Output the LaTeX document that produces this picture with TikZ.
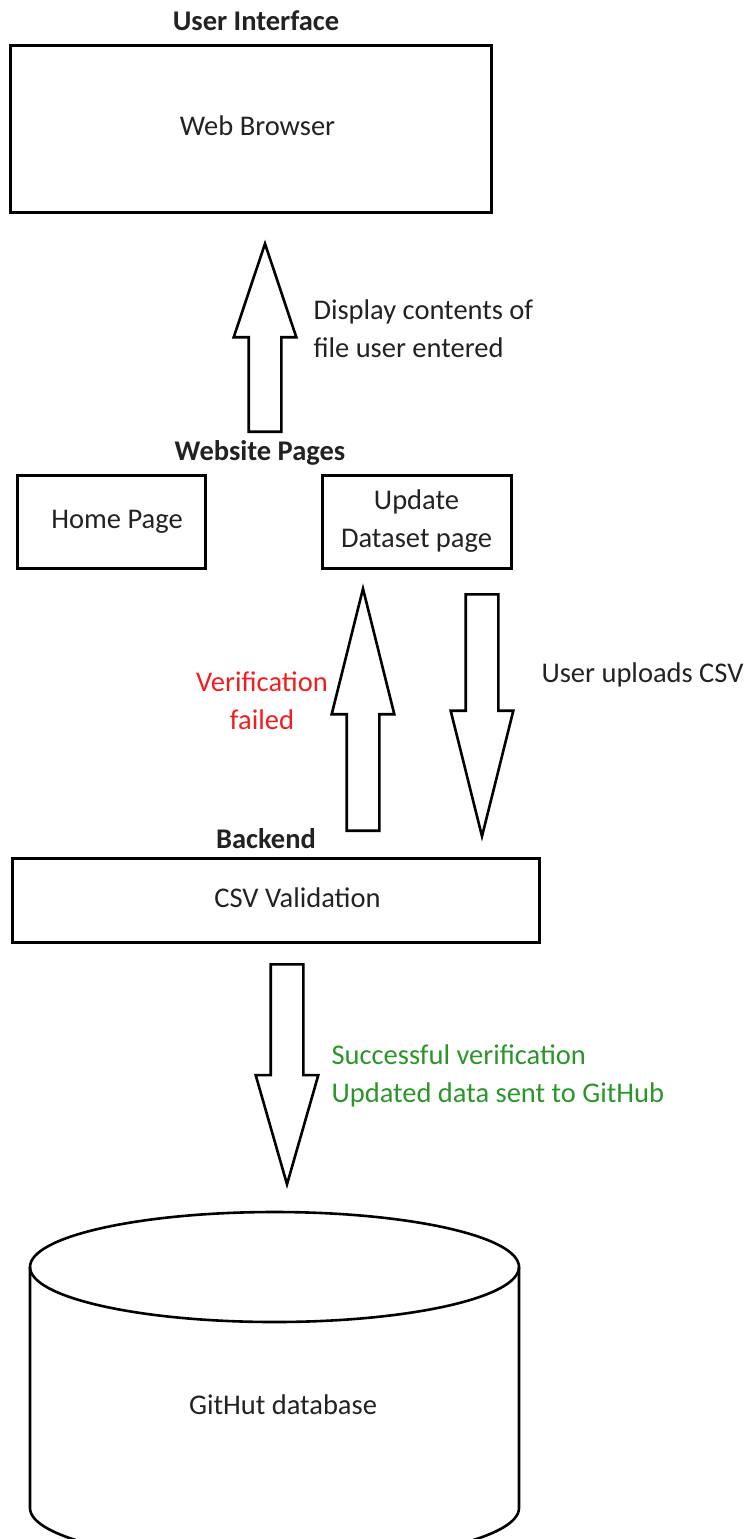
\documentclass[tikz,border=0pt]{standalone}
\usepackage{fontspec}
\setmainfont{Carlito}
\usetikzlibrary{shapes.arrows, positioning}
\definecolor{failred}{HTML}{F01E1E}
\definecolor{okgreen}{HTML}{2A962A}
\definecolor{inktext}{HTML}{222222}

\begin{document}
\begin{tikzpicture}[
    x=1pt, y=-1pt,
    font=\fontsize{28.5}{38}\selectfont,
    text=inktext,
    box/.style={draw, line width=3pt, align=center, inner sep=0pt},
    title/.style={font=\fontsize{28.5}{38}\selectfont\bfseries},
    note/.style={align=left, anchor=west},
    bigup/.style={single arrow, draw, line width=2.6pt, inner sep=15pt, minimum width=60pt,
        single arrow head extend=15pt, shape border rotate=90, anchor=tail},
    bigdown/.style={bigup, shape border rotate=270},
]
\useasboundingbox (0,0) rectangle (751,1539);

% User interface
\node[title] (uihead) at (256,21) {User Interface};
\node[box, minimum width=481pt, minimum height=167pt,
    label={[xshift=7pt, yshift=3pt]center:Web Browser}] (browser) at (250.5,128.5) {};

% Website pages
\node[title] (webhead) at (260,453) {Website Pages};
\node[box, minimum width=188pt, minimum height=93pt,
    label={[xshift=6pt]center:Home Page}] (home) at (111,521.5) {};
\node[box, minimum width=189pt, minimum height=93pt] (update) at (416.5,521.5) {Update\\Dataset page};

% Backend
\node[title] (backhead) at (266,839) {Backend};
\node[box, minimum width=527pt, minimum height=84pt,
    label={[xshift=22pt, yshift=2pt]center:CSV Validation}] (csv) at (275.5,900) {};

% Database
\draw[line width=2.6pt] (30,1267) -- (30,1508) arc[start angle=180, end angle=0, x radius=244.5, y radius=55] -- (519,1267);
\draw[line width=2.6pt] (274.5,1267) ellipse[x radius=244.5, y radius=55];
\node (db) at (283,1405) {GitHut database};

% Flow arrows
\node[bigup, minimum height=188pt, single arrow tip angle=37] (show) at (265,433) {};
\node[bigup, minimum height=242pt, single arrow tip angle=28] (fail) at (363,832) {};
\node[bigdown, minimum height=242pt, single arrow tip angle=28] (upload) at (482,593) {};
\node[bigdown, minimum height=220pt, single arrow tip angle=32] (pass) at (287,963) {};

% Labels
\node[note] (showlbl) at (310,329) {Display contents of\\file user entered};
\node[align=center, text=failred] (faillbl) at (262,701) {Verification\\failed};
\node[note] (uploadlbl) at (538,675) {User uploads CSV};
\node[note, text=okgreen] (passlbl) at (328,1076) {Successful verification\\Updated data sent to GitHub};

\end{tikzpicture}
\end{document}
